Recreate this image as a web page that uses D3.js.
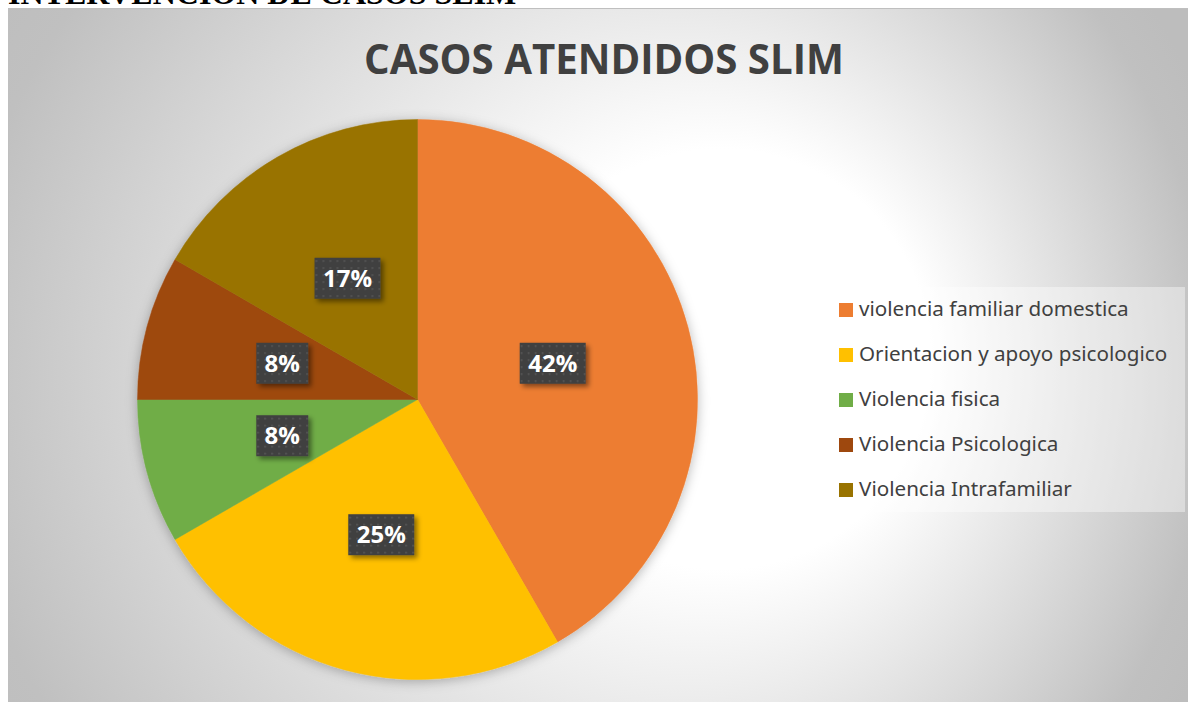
<!DOCTYPE html>
<html>
<head>
<meta charset="utf-8">
<script src="https://cdn.jsdelivr.net/npm/d3@7.9.0/dist/d3.min.js"></script>
<style>
  body { margin: 0; background: #fff; }
  svg { display: block; }
</style>
</head>
<body>
<svg id="chart" width="1188" height="702"></svg>
<script>
const pageHeading = 'INTERVENCION DE CASOS SLIM';
const title = 'CASOS ATENDIDOS SLIM';
const categories = [
  'violencia familiar domestica',
  'Orientacion y apoyo psicologico',
  'Violencia fisica',
  'Violencia Psicologica',
  'Violencia Intrafamiliar'
];
const counts = [5, 3, 1, 1, 2];
const sliceColors = ['#ED7D31', '#FFC000', '#70AD47', '#9E480E', '#997300'];

const W = 1188, H = 702;
const svg = d3.select('#chart');
const defs = svg.append('defs');

// background gradient of the chart area
const grad = defs.append('radialGradient')
  .attr('id', 'bg')
  .attr('gradientUnits', 'userSpaceOnUse')
  .attr('cx', 560).attr('cy', 380).attr('r', 700)
  .attr('fx', 790).attr('fy', 350);
grad.append('stop').attr('offset', 0).attr('stop-color', '#ffffff');
grad.append('stop').attr('offset', 0.3).attr('stop-color', '#ffffff');
grad.append('stop').attr('offset', 0.9).attr('stop-color', '#c0c0c0');
grad.append('stop').attr('offset', 1).attr('stop-color', '#bdbdbd');

const pieShadow = defs.append('filter').attr('id', 'pieShadow')
  .attr('x', '-20%').attr('y', '-20%').attr('width', '140%').attr('height', '140%');
pieShadow.append('feDropShadow')
  .attr('dx', 0).attr('dy', 2).attr('stdDeviation', 6)
  .attr('flood-color', '#000').attr('flood-opacity', 0.28);

const boxShadow = defs.append('filter').attr('id', 'boxShadow')
  .attr('x', '-30%').attr('y', '-30%').attr('width', '170%').attr('height', '170%');
boxShadow.append('feDropShadow')
  .attr('dx', 3).attr('dy', 3).attr('stdDeviation', 2.5)
  .attr('flood-color', '#000').attr('flood-opacity', 0.45);

const dots = defs.append('pattern').attr('id', 'dots')
  .attr('patternUnits', 'userSpaceOnUse').attr('width', 7).attr('height', 7);
dots.append('rect').attr('width', 7).attr('height', 7).attr('fill', '#404040');
dots.append('rect').attr('x', 3).attr('y', 3).attr('width', 1.6).attr('height', 1.6).attr('fill', '#5a5a5a');

// heading of the page above the chart (cut off at the top, as in the source)
svg.append('text')
  .attr('x', 8).attr('y', 4)
  .attr('font-family', 'Liberation Serif, serif')
  .attr('font-weight', 'bold')
  .attr('font-size', 32)
  .attr('fill', '#000')
  .text(pageHeading);

// chart area
svg.append('rect')
  .attr('x', 8).attr('y', 8).attr('width', W - 8).attr('height', H - 8)
  .attr('fill', 'url(#bg)');
svg.append('line')
  .attr('x1', 8).attr('x2', W).attr('y1', 8.5).attr('y2', 8.5)
  .attr('stroke', '#bfbfbf').attr('stroke-width', 1);
svg.append('line')
  .attr('x1', 8.5).attr('x2', 8.5).attr('y1', 8).attr('y2', H)
  .attr('stroke', '#bfbfbf').attr('stroke-width', 1);

// title
const titleText = svg.append('text')
  .attr('x', 604).attr('y', 74)
  .attr('text-anchor', 'middle')
  .attr('font-family', 'Open Sans, sans-serif')
  .attr('font-weight', 'bold')
  .attr('font-size', 44)
  .attr('fill', '#404040')
  .text(title);
fitWidth(titleText, 480);

function fitWidth(sel, target) {
  const fs = +sel.attr('font-size');
  const w = sel.node().getComputedTextLength();
  sel.attr('font-size', fs * target / w);
}

// pie
const cx = 417.5, cy = 399.5, R = 280;
const pie = d3.pie().sort(null).value(d => d);
const arcs = pie(counts);
const arc = d3.arc().innerRadius(0).outerRadius(R);
const labelArc = d3.arc().innerRadius(R / 2).outerRadius(R / 2);
const total = d3.sum(counts);

const g = svg.append('g').attr('transform', `translate(${cx},${cy})`);
g.append('g').attr('filter', 'url(#pieShadow)')
  .selectAll('path')
  .data(arcs)
  .join('path')
  .attr('d', arc)
  .attr('fill', (d, i) => sliceColors[i])
  .attr('stroke', (d, i) => sliceColors[i])
  .attr('stroke-width', 0.5);

const labels = g.append('g').selectAll('g')
  .data(arcs)
  .join('g')
  .attr('transform', d => `translate(${labelArc.centroid(d)})`);

labels.each(function(d) {
  const lg = d3.select(this);
  const box = lg.append('rect').attr('fill', 'url(#dots)').attr('filter', 'url(#boxShadow)');
  const t = lg.append('text')
    .attr('text-anchor', 'middle')
    .attr('dy', '0.36em')
    .attr('font-family', 'Open Sans, sans-serif')
    .attr('font-weight', 'bold')
    .attr('font-size', 24)
    .attr('fill', '#fff')
    .text(Math.round(d.value / total * 100) + '%');
  const tw = t.node().getComputedTextLength();
  const bw = Math.round(tw + 17), bh = 41;
  box.attr('x', -bw / 2).attr('y', -bh / 2).attr('width', bw).attr('height', bh);
});

// legend
const legend = svg.append('g');
legend.append('rect')
  .attr('x', 826).attr('y', 287).attr('width', 359).attr('height', 225)
  .attr('fill', '#fff').attr('fill-opacity', 0.4);

const rowY = d3.scalePoint().domain(categories).range([310, 490]);
const items = legend.selectAll('g.item')
  .data(categories)
  .join('g')
  .attr('class', 'item')
  .attr('transform', d => `translate(839,${rowY(d)})`);
items.append('rect')
  .attr('x', 0).attr('y', -7).attr('width', 14).attr('height', 14)
  .attr('fill', (d, i) => sliceColors[i]);
const legTexts = items.append('text')
  .attr('x', 20).attr('y', 6)
  .attr('font-family', 'Noto Sans, sans-serif')
  .attr('font-size', 18)
  .attr('fill', '#404040')
  .text(d => d);
const firstW = legTexts.node().getComputedTextLength();
legTexts.attr('font-size', 18 * 270 / firstW);
</script>
</body>
</html>
